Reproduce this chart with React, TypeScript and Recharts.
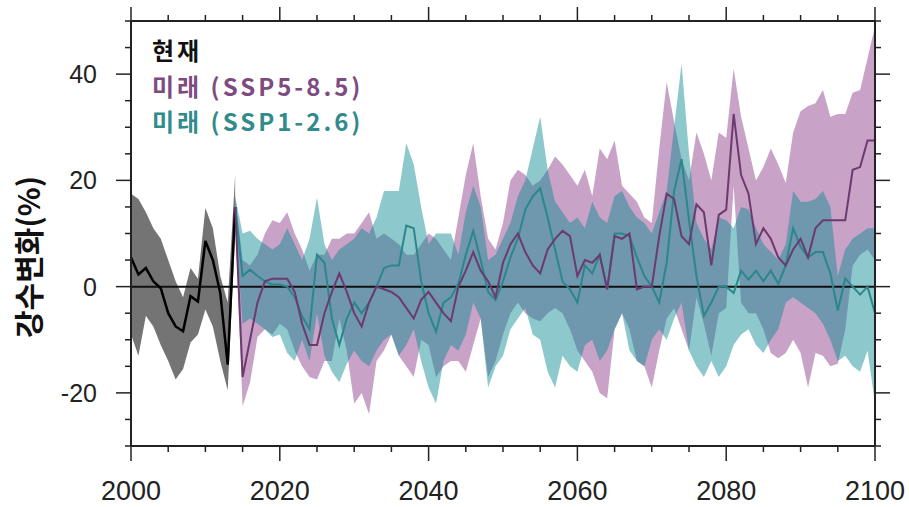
import React from "react";
import { Area, ComposedChart, Line, ReferenceLine, XAxis, YAxis } from "recharts";

// Precipitation change (%) relative to present climate, ensemble mean and spread

const HIST_START = 2000;
const FUTURE_START = 2014;

// 현재 (2000-2014)
const histMean = [5.5, 2.3, 3.5, 1, -0.3, -5, -7.5, -8.4, -1.8, -2.8, 8.6, 5, -1.2, -14.7, 15];
const histLow = [-9, -13, -5.5, -7.5, -11, -14, -17.5, -15.5, -10.5, -9, -4.3, -7.5, -14, -19.5, 10];
const histHigh = [17.5, 16.5, 14, 11, 9, 5, 1, -2, 3.5, 1.5, 14.8, 11, 2, -3, 21];

// 미래 SSP5-8.5 (2014-2100)
const ssp585Mean = [
	15, -17, -10, -3, 1, 1.5, 1.5, 1.5, -1, -7, -11, -11, -5, -1, 2.5, -1, -5, -7.5, -3, 0, -0.5, -1, -2, -4, -6, -2.5,
	-1, -3, -5, -6.5, 0, 3, 6.5, 3, 1, -2, 4.5, 8, 10, 6.5, 4, 2.5, 7, 9, 10.5, 9.5, 2, 5, 4.5, 6, -0.5, 9.5, 9, 10, -0.5,
	0, 0, 9.5, 17.5, 16.5, 9.5, 8, 15.5, 14, 4, 13.5, 14.5, 32.5, 21, 17.5, 8, 11, 9, 5.5, 4, 7, 9, 5.5, 11, 12.5, 12.5,
	12.5, 12.5, 22, 22.5, 27.5, 27.5,
];
const ssp585Low = [
	12, -22.5, -18, -9.5, -8, -9, -7, -8, -12, -15, -17, -17.5, -14, -14, -6, -12, -22, -20, -24, -14, -12, -9, -13, -15,
	-17, -10, -11, -17, -15, -14, -14, -16, -11, -6, -17, -14, -9, -5, -3, -5, -6, -6.5, -5, -4, -5, -8, -12, -14, -16, -20,
	-21, -8, -5, -8, -14, -15, -19, -12, -6, -4, -8, -12, -2, -7, -13, -5, -4, 19, -3, -5, -5, -8, -12.5, -13.5, -12.5, -10,
	-12.5, -19, -12.5, -13, -15, -14.5, -8, 4, 6, 7, 5,
];
const ssp585High = [
	17, 5, 4, 6, 10, 12.5, 12, 14, 10, 7, 3, 6, 6, 9, 9, 10, 10, 12, 14, 9, 10, 9, 8, 6, 6, 8, 10, 9, 7, 5, 13, 21, 27, 17,
	9, 7, 12, 20, 22, 21, 19, 20, 22, 24.5, 23, 21, 19, 22, 17, 26, 24, 27.5, 19, 17.5, 16, 13, 12, 26, 38.5, 31, 24, 20,
	29, 25, 20, 29, 28, 41, 32, 26, 20, 22.5, 26, 23, 19.5, 29, 33, 34, 34.5, 37, 32, 32.5, 32.5, 36.5, 37, 43, 49,
];

// 미래 SSP1-2.6 (2014-2100)
const ssp126Mean = [
	15, 2, 3.2, 2, 1, 0.4, 0.4, 0, -2, -5.6, -8, 6, 4.5, -6, -11, -6, -3, -5, -3, 0, 3.5, 4, 4, 11.5, 11, 1, -5, -8.5, -3,
	-2, 0.5, 6, 10.5, 5, -1, -2.5, 1, 5.5, 9, 14.5, 17, 18.5, 13, 7, 1, -0.5, -3, 4, 2.5, 6, -0.5, 10, 10, 9.5, 5.5, 2, 0,
	-3, 4.5, 18, 24, 12.5, 2, -5.5, -3, 0, 0, -1.2, 3, 1.3, 3, 1, 3, 0.5, 4, 11, 7.5, 5.5, 6.5, 6.5, 2.5, -4.5, 1.5, 0,
	-1.5, 0, -5,
];
const ssp126Low = [
	12, -7, -6, -7, -8, -9.5, -9, -12.5, -14, -10, -14, -5, -13, -16, -18, -14.5, -12, -14, -15, -12, -10, -9, -13, -11,
	-8, -14, -19, -22, -14, -11, -12, -9, -3, -6, -19, -15, -13, -8, -6, -4, -9, -10, -16, -19, -13, -15, -16, -11, -10,
	-14, -12, -8, -5, -12, -14, -15, -10, -8, -10, -6, -3, -12, -15, -17, -14, -17, -15, -11, -9, -8, -11, -12.5, -10,
	-8, -3, -2, -3, -4, -5, -7, -10, -14, -13, -15, -16, -12, -22,
];
const ssp126High = [
	17, 10, 10.5, 9, 8, 7, 8, 11, 8, 5, 9, 16.8, 8, 5, 7, 8, 9, 11, 10, 13, 18, 18, 18, 27, 23, 15, 8, 10, 10, 10, 6, 14,
	19, 15, 5, 6, 9, 12, 17, 20, 26, 32, 22, 16, 14, 12, 13, 11, 16, 13, 12, 17, 18, 15, 13, 12, 10, 14, 18, 30, 42, 25,
	12, 9, 7, 13, 12.5, 11, 15, 14.5, 11, 8, 6.5, 5, 8, 18, 16, 16, 16.5, 18, 15, 2, 7, 9, 10, 11, 11,
];

const X_TICKS = [
	2000, 2005, 2010, 2015, 2020, 2025, 2030, 2035, 2040, 2045, 2050, 2055, 2060, 2065, 2070, 2075, 2080, 2085, 2090, 2095,
	2100,
];
const Y_TICKS = [-30, -25, -20, -15, -10, -5, 0, 5, 10, 15, 20, 25, 30, 35, 40, 45, 50];

const LEGEND = [
	{ label: "현재", color: "#111111" },
	{ label: "미래 (SSP5-8.5)", color: "#7d4b7f" },
	{ label: "미래 (SSP1-2.6)", color: "#318b8d" },
];

const pick = (arr: number[], i: number) => (i >= 0 && i < arr.length ? arr[i] : null);

const rows: Record<string, unknown>[] = [];
for (let year = 2000; year <= 2100; year++) {
	const h = year - HIST_START;
	const f = year - FUTURE_START;
	const hl = pick(histLow, h);
	const pl = pick(ssp585Low, f);
	const tl = pick(ssp126Low, f);
	rows.push({
		year,
		hist: pick(histMean, h),
		histRange: hl === null ? null : [hl, histHigh[h]],
		p: pick(ssp585Mean, f),
		pRange: pl === null ? null : [pl, ssp585High[f]],
		t: pick(ssp126Mean, f),
		tRange: tl === null ? null : [tl, ssp126High[f]],
	});
}

const AXIS = "#222222";
const TICK_FONT = "'Liberation Sans', Arial, sans-serif";
const KR_FONT = "'Noto Sans CJK KR', 'Noto Sans', sans-serif";

type TickProps = { x?: number; y?: number; payload?: { value: number } };

function BottomTick({ x = 0, y = 0, payload }: TickProps) {
	const v = payload?.value ?? 0;
	const major = v % 20 === 0;
	return (
		<g>
			<line x1={x} x2={x} y1={y} y2={y + (major ? 15 : 6)} stroke={AXIS} strokeWidth={1.5} />
			{major && (
				<text x={x} y={y + 54} textAnchor="middle" fontSize={27} fontFamily={TICK_FONT} fill="#222">
					{v}
				</text>
			)}
		</g>
	);
}

function TopTick({ x = 0, y = 0, payload }: TickProps) {
	const major = (payload?.value ?? 0) % 20 === 0;
	return <line x1={x} x2={x} y1={y} y2={y - (major ? 14 : 6)} stroke={AXIS} strokeWidth={1.5} />;
}

function LeftTick({ x = 0, y = 0, payload }: TickProps) {
	const v = payload?.value ?? 0;
	const major = v % 20 === 0;
	return (
		<g>
			<line x1={x} x2={x - (major ? 15 : 6)} y1={y} y2={y} stroke={AXIS} strokeWidth={1.5} />
			{major && (
				<text x={x - 34} y={y} dy="0.36em" textAnchor="end" fontSize={25} fontFamily={TICK_FONT} fill="#222">
					{v}
				</text>
			)}
		</g>
	);
}

function RightTick({ x = 0, y = 0, payload }: TickProps) {
	const major = (payload?.value ?? 0) % 20 === 0;
	return <line x1={x} x2={x + (major ? 15 : 6)} y1={y} y2={y} stroke={AXIS} strokeWidth={1.5} />;
}

function YTitle() {
	return (
		<text
			x={29}
			y={257}
			transform="rotate(-90 29 257)"
			textAnchor="middle"
			dy="0.35em"
			fontSize={30}
			fontWeight={700}
			fontFamily={KR_FONT}
			fill="#111"
		>
			강수변화(%)
		</text>
	);
}

export default function App(): React.JSX.Element {
	return (
		<div style={styles.wrapper}>
			<ComposedChart width={909} height={507} data={rows} margin={{ top: 7, right: 19, bottom: 0, left: 0 }}>
				<XAxis
					dataKey="year"
					type="number"
					domain={[2000, 2100]}
					ticks={X_TICKS}
					interval={0}
					height={61}
					tickSize={0}
					tickMargin={0}
					tick={(props: TickProps) => <BottomTick {...props} />}
					axisLine={{ stroke: AXIS, strokeWidth: 2 }}
				/>
				<XAxis
					xAxisId="top"
					orientation="top"
					dataKey="year"
					type="number"
					domain={[2000, 2100]}
					ticks={X_TICKS}
					interval={0}
					height={14}
					tickSize={0}
					tickMargin={0}
					tick={(props: TickProps) => <TopTick {...props} />}
					axisLine={{ stroke: AXIS, strokeWidth: 2 }}
				/>
				<YAxis
					type="number"
					domain={[-30, 50]}
					ticks={Y_TICKS}
					interval={0}
					width={131}
					tickSize={0}
					tickMargin={0}
					allowDataOverflow
					tick={(props: TickProps) => <LeftTick {...props} />}
					axisLine={{ stroke: AXIS, strokeWidth: 2 }}
					label={{ content: () => <YTitle /> }}
				/>
				<YAxis
					yAxisId="right"
					orientation="right"
					type="number"
					domain={[-30, 50]}
					ticks={Y_TICKS}
					interval={0}
					width={15}
					tickSize={0}
					tickMargin={0}
					allowDataOverflow
					tick={(props: TickProps) => <RightTick {...props} />}
					axisLine={{ stroke: AXIS, strokeWidth: 2 }}
				/>

				<Area
					type="linear"
					dataKey="histRange"
					stroke="none"
					fill="#747474"
					fillOpacity={1}
					isAnimationActive={false}
				/>
				<Area
					type="linear"
					dataKey="pRange"
					stroke="none"
					fill="#914690"
					fillOpacity={0.5}
					isAnimationActive={false}
				/>
				<Area
					type="linear"
					dataKey="tRange"
					stroke="none"
					fill="#0b8a93"
					fillOpacity={0.47}
					isAnimationActive={false}
				/>
				<ReferenceLine y={0} stroke="#111" strokeWidth={2} />
				<Line
					type="linear"
					dataKey="hist"
					stroke="#000"
					strokeWidth={2.5}
					dot={false}
					isAnimationActive={false}
				/>
				<Line
					type="linear"
					dataKey="t"
					stroke="#2a878b"
					strokeWidth={2}
					dot={false}
					isAnimationActive={false}
				/>
				<Line
					type="linear"
					dataKey="p"
					stroke="#6c3a6e"
					strokeWidth={2}
					dot={false}
					isAnimationActive={false}
				/>
			</ComposedChart>

			{/* Legend text, top-left inside the plot */}
			<div style={{ ...styles.legendItem, top: 32, color: LEGEND[0].color }}>{LEGEND[0].label}</div>
			<div style={{ ...styles.legendItem, top: 68, color: LEGEND[1].color }}>{LEGEND[1].label}</div>
			<div style={{ ...styles.legendItem, top: 103, color: LEGEND[2].color }}>{LEGEND[2].label}</div>
		</div>
	);
}

const styles = {
	wrapper: {
		position: "fixed",
		left: 0,
		top: 0,
		width: 909,
		height: 507,
		background: "#ffffff",
	},
	legendItem: {
		position: "absolute",
		left: 152,
		fontFamily: KR_FONT,
		fontSize: 24,
		fontWeight: 700,
		lineHeight: "35px",
		letterSpacing: "3px",
		whiteSpace: "nowrap",
	},
} satisfies Record<string, React.CSSProperties>;
